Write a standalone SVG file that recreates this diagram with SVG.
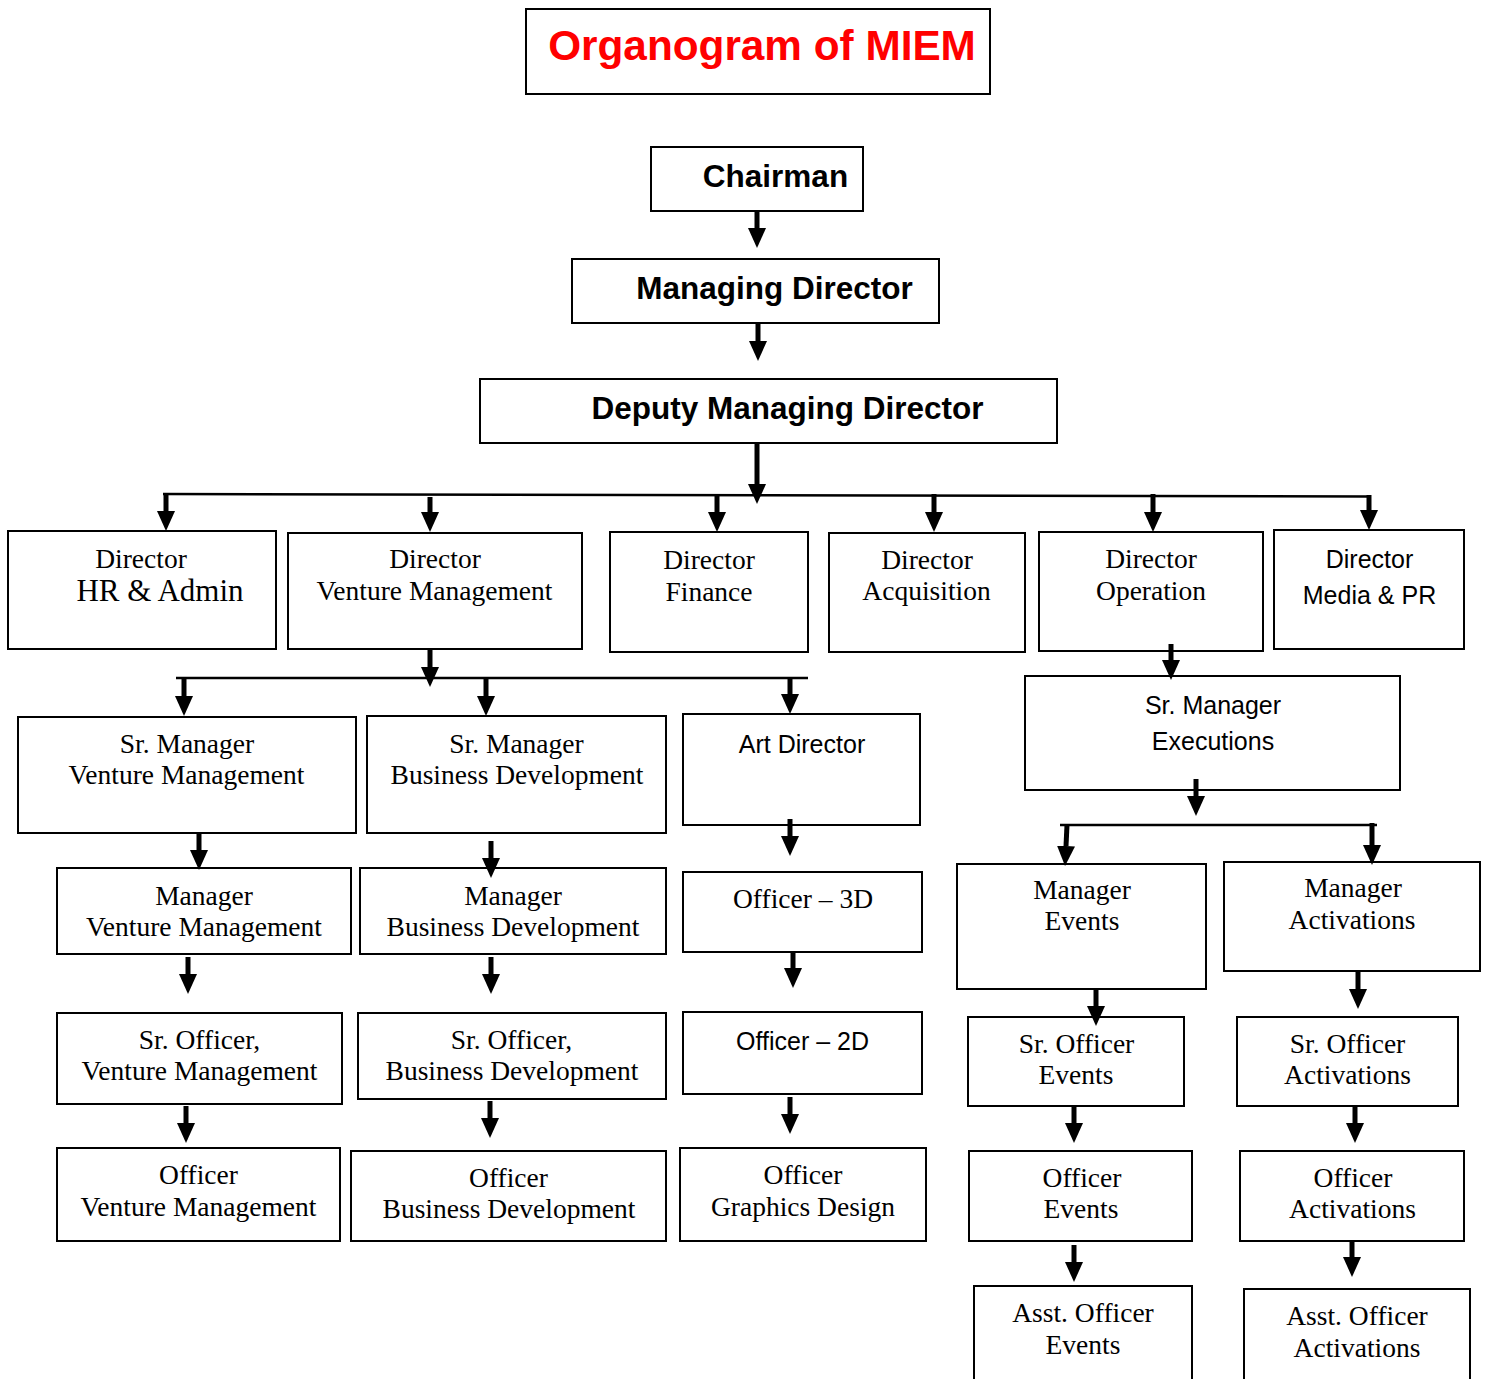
<svg xmlns="http://www.w3.org/2000/svg" width="1486" height="1379" viewBox="0 0 1486 1379">
<style>
.box{fill:#fff;stroke:#000;stroke-width:2}
.sf{font-family:"Liberation Serif",serif;font-size:27.5px;text-anchor:middle;fill:#000}
.ss{font-family:"Liberation Sans",sans-serif;font-size:25px;text-anchor:middle;fill:#000}
.bd{font-family:"Liberation Sans",sans-serif;font-size:31.5px;font-weight:bold;text-anchor:middle;fill:#000}
.ttl{font-family:"Liberation Sans",sans-serif;font-size:42.3px;font-weight:bold;text-anchor:middle;fill:#ff0000}
.ar{stroke:#000;stroke-width:5;fill:none;marker-end:url(#ah)}
.hl{stroke:#000;stroke-width:2.5;fill:none}
</style>
<defs>
<marker id="ah" markerUnits="userSpaceOnUse" markerWidth="20" markerHeight="18" viewBox="0 0 20 18" refX="0" refY="9" orient="auto">
<path d="M0,0 L20,9 L0,18 z" fill="#000"/>
</marker>
</defs>
<rect width="1486" height="1379" fill="#fff"/>

<g id="title"><rect class="box" x="526" y="9" width="464" height="85"/><text class="ttl" x="762" y="60">Organogram of MIEM</text></g>
<g id="chairman"><rect class="box" x="651" y="147" width="212" height="64"/><text class="bd" x="775.5" y="187">Chairman</text></g>
<g id="md"><rect class="box" x="572" y="259" width="367" height="64"/><text class="bd" x="774.5" y="299">Managing Director</text></g>
<g id="dmd"><rect class="box" x="480" y="379" width="577" height="64"/><text class="bd" x="787.5" y="419">Deputy Managing Director</text></g>

<g id="dir-hr"><rect class="box" x="8" y="531" width="268" height="118"/><text class="sf" x="141" y="568">Director</text><text class="sf" x="160" y="601" style="font-size:31px">HR &amp; Admin</text></g>
<g id="dir-vm"><rect class="box" x="288" y="533" width="294" height="116"/><text class="sf" x="435" y="568">Director</text><text class="sf" x="434.5" y="600">Venture Management</text></g>
<g id="dir-fin"><rect class="box" x="610" y="532" width="198" height="120"/><text class="sf" x="709" y="569">Director</text><text class="sf" x="709" y="601">Finance</text></g>
<g id="dir-acq"><rect class="box" x="829" y="533" width="196" height="119"/><text class="sf" x="927" y="569">Director</text><text class="sf" x="926.5" y="600">Acquisition</text></g>
<g id="dir-op"><rect class="box" x="1039" y="532" width="224" height="119"/><text class="sf" x="1151" y="568">Director</text><text class="sf" x="1151" y="600">Operation</text></g>
<g id="dir-media"><rect class="box" x="1274" y="530" width="190" height="119"/><text class="ss" x="1369.5" y="568">Director</text><text class="ss" x="1369.5" y="604">Media &amp; PR</text></g>

<g id="srm-vm"><rect class="box" x="18" y="717" width="338" height="116"/><text class="sf" x="187" y="753">Sr. Manager</text><text class="sf" x="186.5" y="784">Venture Management</text></g>
<g id="srm-bd"><rect class="box" x="367" y="716" width="299" height="117"/><text class="sf" x="516.5" y="753">Sr. Manager</text><text class="sf" x="517" y="784">Business Development</text></g>
<g id="art"><rect class="box" x="683" y="714" width="237" height="111"/><text class="ss" x="802" y="753">Art Director</text></g>
<g id="srm-exec"><rect class="box" x="1025" y="676" width="375" height="114"/><text class="ss" x="1213" y="714">Sr. Manager</text><text class="ss" x="1213" y="750">Executions</text></g>

<g id="m-vm"><rect class="box" x="57" y="868" width="294" height="86"/><text class="sf" x="204" y="905">Manager</text><text class="sf" x="204" y="936">Venture Management</text></g>
<g id="m-bd"><rect class="box" x="360" y="868" width="306" height="86"/><text class="sf" x="513" y="905">Manager</text><text class="sf" x="513" y="936">Business Development</text></g>
<g id="o3d"><rect class="box" x="683" y="872" width="239" height="80"/><text class="sf" x="803" y="908">Officer – 3D</text></g>
<g id="m-ev"><rect class="box" x="957" y="864" width="249" height="125"/><text class="sf" x="1082" y="899">Manager</text><text class="sf" x="1082" y="930">Events</text></g>
<g id="m-act"><rect class="box" x="1224" y="862" width="256" height="109"/><text class="sf" x="1353" y="897">Manager</text><text class="sf" x="1352" y="929">Activations</text></g>

<g id="so-vm"><rect class="box" x="57" y="1013" width="285" height="91"/><text class="sf" x="199.5" y="1049">Sr. Officer,</text><text class="sf" x="199.5" y="1080">Venture Management</text></g>
<g id="so-bd"><rect class="box" x="358" y="1013" width="308" height="86"/><text class="sf" x="511.5" y="1049">Sr. Officer,</text><text class="sf" x="512" y="1080">Business Development</text></g>
<g id="o2d"><rect class="box" x="683" y="1012" width="239" height="82"/><text class="ss" x="802.5" y="1050">Officer – 2D</text></g>
<g id="so-ev"><rect class="box" x="968" y="1017" width="216" height="89"/><text class="sf" x="1076.5" y="1053">Sr. Officer</text><text class="sf" x="1076" y="1084">Events</text></g>
<g id="so-act"><rect class="box" x="1237" y="1017" width="221" height="89"/><text class="sf" x="1347.5" y="1053">Sr. Officer</text><text class="sf" x="1347.5" y="1084">Activations</text></g>

<g id="o-vm"><rect class="box" x="57" y="1148" width="283" height="93"/><text class="sf" x="198.5" y="1184">Officer</text><text class="sf" x="198.5" y="1216">Venture Management</text></g>
<g id="o-bd"><rect class="box" x="351" y="1151" width="315" height="90"/><text class="sf" x="508.5" y="1187">Officer</text><text class="sf" x="509" y="1218">Business Development</text></g>
<g id="o-gd"><rect class="box" x="680" y="1148" width="246" height="93"/><text class="sf" x="803" y="1184">Officer</text><text class="sf" x="803" y="1216">Graphics Design</text></g>
<g id="o-ev"><rect class="box" x="969" y="1151" width="223" height="90"/><text class="sf" x="1082" y="1187">Officer</text><text class="sf" x="1081" y="1218">Events</text></g>
<g id="o-act"><rect class="box" x="1240" y="1151" width="224" height="90"/><text class="sf" x="1353" y="1187">Officer</text><text class="sf" x="1352.5" y="1218">Activations</text></g>

<g id="ao-ev"><rect class="box" x="974" y="1286" width="218" height="110"/><text class="sf" x="1083" y="1322">Asst. Officer</text><text class="sf" x="1083" y="1354">Events</text></g>
<g id="ao-act"><rect class="box" x="1244" y="1289" width="226" height="110"/><text class="sf" x="1357" y="1325">Asst. Officer</text><text class="sf" x="1357" y="1357">Activations</text></g>

<g id="connectors">
<path class="hl" d="M163,494 L1370,496.5"/>
<path class="hl" d="M176,678 L808,678"/>
<path class="hl" d="M1060,825 L1377,825"/>
<path class="ar" d="M757,211 V228"/>
<path class="ar" d="M758,323 V341"/>
<path class="ar" d="M757,443 V484"/>
<path class="ar" d="M166,493 V511"/>
<path class="ar" d="M430,497 V512"/>
<path class="ar" d="M717,495 V512"/>
<path class="ar" d="M934,494 V512"/>
<path class="ar" d="M1153,494 V512"/>
<path class="ar" d="M1369,495 V510"/>
<path class="ar" d="M430,649 V667"/>
<path class="ar" d="M184,678 V696"/>
<path class="ar" d="M486,678 V696"/>
<path class="ar" d="M790,677 V694"/>
<path class="ar" d="M1171,644 V660"/>
<path class="ar" d="M1196,779 V796"/>
<path class="ar" d="M1067,825 L1066,846"/>
<path class="ar" d="M1372,823 V845"/>
<path class="ar" d="M199,833 V850"/>
<path class="ar" d="M188,957 V974"/>
<path class="ar" d="M186,1106 V1123"/>
<path class="ar" d="M491,841 V858"/>
<path class="ar" d="M491,957 V974"/>
<path class="ar" d="M490,1101 V1118"/>
<path class="ar" d="M790,819 V836"/>
<path class="ar" d="M793,952 V968"/>
<path class="ar" d="M790,1097 V1114"/>
<path class="ar" d="M1096,989 V1006"/>
<path class="ar" d="M1074,1106 V1123"/>
<path class="ar" d="M1074,1245 V1262"/>
<path class="ar" d="M1358,972 V989"/>
<path class="ar" d="M1355,1106 V1123"/>
<path class="ar" d="M1352,1241 V1257"/>
</g>
</svg>
